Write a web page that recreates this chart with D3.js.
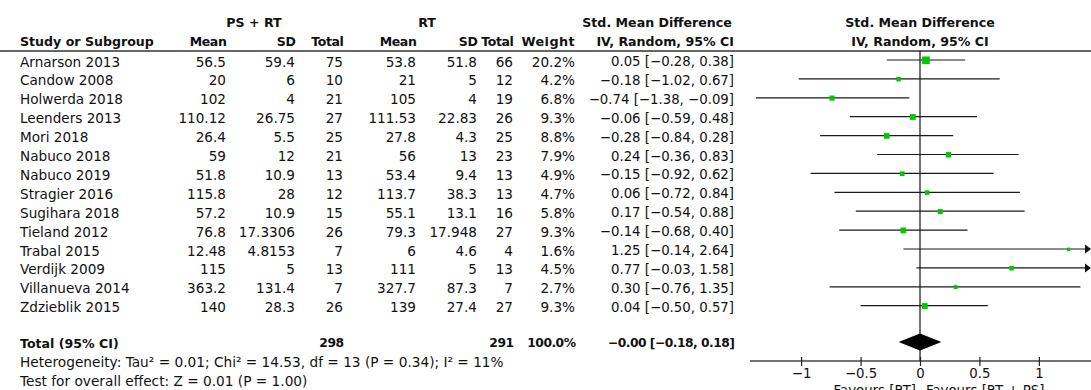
<!DOCTYPE html>
<html><head><meta charset="utf-8">
<script src="https://cdn.jsdelivr.net/npm/d3@7"></script>
<style>
html,body{margin:0;padding:0;background:#fff;}
svg{display:block;}
text{font-family:"DejaVu Sans",Verdana,sans-serif;fill:#111;}
</style></head>
<body><svg id="c" width="1091" height="390"></svg>
<script>
// ---- data ----
const studies = ["Arnarson 2013","Candow 2008","Holwerda 2018","Leenders 2013","Mori 2018","Nabuco 2018","Nabuco 2019","Stragier 2016","Sugihara 2018","Tieland 2012","Trabal 2015","Verdijk 2009","Villanueva 2014","Zdzieblik 2015"];
const psMean = ["56.5","20","102","110.12","26.4","59","51.8","115.8","57.2","76.8","12.48","115","363.2","140"];
const psSD   = ["59.4","6","4","26.75","5.5","12","10.9","28","10.9","17.3306","4.8153","5","131.4","28.3"];
const psN    = [75,10,21,27,25,21,13,12,15,26,7,13,7,26];
const rtMean = ["53.8","21","105","111.53","27.8","56","53.4","113.7","55.1","79.3","6","111","327.7","139"];
const rtSD   = ["51.8","5","4","22.83","4.3","13","9.4","38.3","13.1","17.948","4.6","5","87.3","27.4"];
const rtN    = [66,12,19,26,25,23,13,13,16,27,4,13,7,27];
const weight = [20.2,4.2,6.8,9.3,8.8,7.9,4.9,4.7,5.8,9.3,1.6,4.5,2.7,9.3];
const smd    = [0.05,-0.18,-0.74,-0.06,-0.28,0.24,-0.15,0.06,0.17,-0.14,1.25,0.77,0.30,0.04];
const ciLo   = [-0.28,-1.02,-1.38,-0.59,-0.84,-0.36,-0.92,-0.72,-0.54,-0.68,-0.14,-0.03,-0.76,-0.50];
const ciHi   = [0.38,0.67,-0.09,0.48,0.28,0.83,0.62,0.84,0.88,0.40,2.64,1.58,1.35,0.57];
const totalN = [298,291];
const totalWeight = "100.0%";
const totalEst = [-0.00,-0.18,0.18];
const totalLabel = "−0.00 [−0.18, 0.18]";
const heterogeneity = "Heterogeneity: Tau² = 0.01; Chi² = 14.53, df = 13 (P = 0.34); I² = 11%";
const overall = "Test for overall effect: Z = 0.01 (P = 1.00)";
const ticks = [-1,-0.5,0,0.5,1];
const favours = ["Favours [RT]","Favours [RT + PS]"];

// ---- layout ----
const svg = d3.select("#c");
const FS = 13.6, FSB = 12.6;
const rowY = d3.scaleLinear().domain([0,1]).range([61.5, 80.4]); // row index -> y
const x = d3.scaleLinear().domain([-1.43,1.43]).range([750,1090]);
const headerLineY = 51, axisY = 361;
const totalY = 343, hetY = 362, testY = 381;
const f2 = d3.format(".2f");
const ciText = i => `${f2(smd[i])} [${f2(ciLo[i])}, ${f2(ciHi[i])}]`;

function txt(xp, yp, s, anchor, bold, size, ls){
  const t = svg.append("text").attr("x",xp).attr("y",yp).attr("dominant-baseline","central")
    .attr("text-anchor",anchor||"start").attr("font-weight",bold?"bold":"normal")
    .attr("font-size", size || (bold?FSB:FS)).text(s);
  if (ls) t.attr("letter-spacing", ls);
  return t;
}

// headers
txt(254,22.5,"PS + RT","middle",true);
txt(427,22.5,"RT","middle",true);
txt(657,22.5,"Std. Mean Difference","middle",true);
txt(920,22.5,"Std. Mean Difference","middle",true);
const h2 = 41.5;
txt(20,h2,"Study or Subgroup","start",true);
[["Mean",226],["SD",295],["Total",343],["Mean",416],["SD",477],["Total",513]]
  .forEach(([s,xp])=>txt(xp+0.4,h2,s,"end",true,12.5,-0.4));
txt(575,h2,"Weight","end",true,12.8,0.4);
txt(734,h2,"IV, Random, 95% CI","end",true);
txt(920,h2,"IV, Random, 95% CI","middle",true);

svg.append("line").attr("x1",0).attr("x2",1091).attr("y1",headerLineY).attr("y2",headerLineY)
  .attr("stroke","#333").attr("stroke-width",1.5);

// rows
const cols = [
  [psMean,226],[psSD,295],[psN,343],[rtMean,416],[rtSD,477],[rtN,513]
];
studies.forEach((s,i)=>{
  const y = rowY(i);
  txt(20,y,s,"start");
  cols.forEach(([arr,xp])=>txt(xp,y,arr[i],"end"));
  txt(575,y,d3.format(".1f")(weight[i])+"%","end");
  txt(734,y,ciText(i),"end",false,13.3);
});

// total
txt(20,totalY,"Total (95% CI)","start",true);
txt(343.5,totalY,totalN[0],"end",true,12.3,-0.5);
txt(513.5,totalY,totalN[1],"end",true,12.3,-0.5);
txt(575.5,totalY,totalWeight,"end",true,12.3,-0.5);
txt(734.5,totalY,totalLabel,"end",true,12.3,-0.5);
txt(20,hetY,heterogeneity,"start",false,13.7);
txt(20,testY,overall,"start",false,13.7);

// zero line
svg.append("line").attr("x1",x(0)).attr("x2",x(0)).attr("y1",headerLineY).attr("y2",axisY)
  .attr("stroke","#111").attr("stroke-width",1.2);

// CIs
const [xmin,xmax] = x.domain();
const g = svg.append("g");
studies.forEach((s,i)=>{
  const y = rowY(i) - 1.5;
  const lo = Math.max(ciLo[i], xmin), hi = Math.min(ciHi[i], xmax);
  g.append("line").attr("x1",x(lo)).attr("x2",x(hi)).attr("y1",y).attr("y2",y)
    .attr("stroke","#1a1a1a").attr("stroke-width",1.2);
  if (ciHi[i] > xmax){
    const xe = x(xmax)+1;
    g.append("path").attr("d",`M${xe-6},${y-4.5}L${xe},${y}L${xe-6},${y+4.5}Z`).attr("fill","#111");
  }
  if (ciLo[i] < xmin){
    const xs = x(xmin);
    g.append("path").attr("d",`M${xs+6},${y-4.5}L${xs},${y}L${xs+6},${y+4.5}Z`).attr("fill","#111");
  }
  const sz = 1.8 + 1.3*Math.sqrt(weight[i]);
  g.append("rect").attr("x",x(smd[i])-sz/2).attr("y",y+0.3-sz/2).attr("width",sz).attr("height",sz)
    .attr("fill","#00c800");
});

// diamond
const dy = totalY - 1;
svg.append("path").attr("d",`M${x(totalEst[1])},${dy}L${x(totalEst[0])},${dy-8.5}L${x(totalEst[2])},${dy}L${x(totalEst[0])},${dy+8.5}Z`)
  .attr("fill","#000");

// axis
const axis = svg.append("g").attr("transform",`translate(0,${axisY})`)
  .call(d3.axisBottom(x).tickValues(ticks).tickFormat(d3.format("~g")).tickSizeOuter(0).tickSizeInner(5));
axis.select(".domain").attr("stroke","#444").attr("stroke-width",1.5).attr("d",`M${x.range()[0]},0H1091`);
axis.selectAll(".tick line").attr("y1",-4).attr("y2",5).attr("stroke","#222").attr("stroke-width",1.2);
axis.selectAll(".tick text").attr("y",12).attr("dy",null).attr("dominant-baseline","central")
  .attr("font-family","DejaVu Sans").attr("font-size",13.3).attr("fill","#111");

svg.append("text").attr("x",x(0)-4).attr("y",395).attr("text-anchor","end").attr("font-size",13.3).text(favours[0]);
svg.append("text").attr("x",x(0)+6).attr("y",395).attr("text-anchor","start").attr("font-size",13.3).text(favours[1]);
</script></body></html>
